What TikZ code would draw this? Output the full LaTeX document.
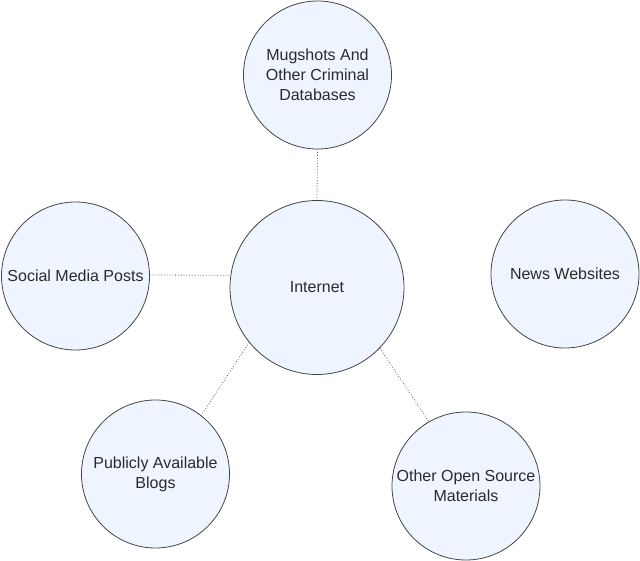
\documentclass[tikz,border=0pt]{standalone}
\usepackage{fontspec}
\setmainfont{Liberation Sans}
\definecolor{circfill}{HTML}{EEF5FF}
\definecolor{circline}{HTML}{444444}
\definecolor{txt}{HTML}{2A2A2A}
\definecolor{conn}{HTML}{555555}
\begin{document}
\begin{tikzpicture}[x=1pt,y=-1pt,
  bubble/.style={circle,draw=circline,line width=0.8pt,fill=circfill,minimum size=148pt,inner sep=0pt,align=center,text=txt,font=\fontsize{16}{20}\selectfont},
  bigbubble/.style={bubble,minimum size=174pt},
  link/.style={draw=conn,line width=0.8pt,dotted}]
\useasboundingbox (0,0) rectangle (640,561);
\node[bubble] (mug) at (317.5,75) {Mugshots And\\Other Criminal\\Databases};
\node[bubble] (social) at (75.5,276) {Social Media Posts};
\node[bigbubble] (internet) at (317,287.5) {Internet};
\node[bubble] (news) at (565,274) {News Websites};
\node[bubble] (blogs) at (155.5,474) {Publicly Available\\Blogs};
\node[bubble] (other) at (466,486) {Other Open Source\\Materials};
\draw[link] (mug.south) -- (internet.north);
\draw[link] (social.east |- 0,275) -- (internet.172);
\draw[link] (internet.219) -- (blogs.52);
\draw[link] (internet.-44) -- (other.120);
\end{tikzpicture}
\end{document}
